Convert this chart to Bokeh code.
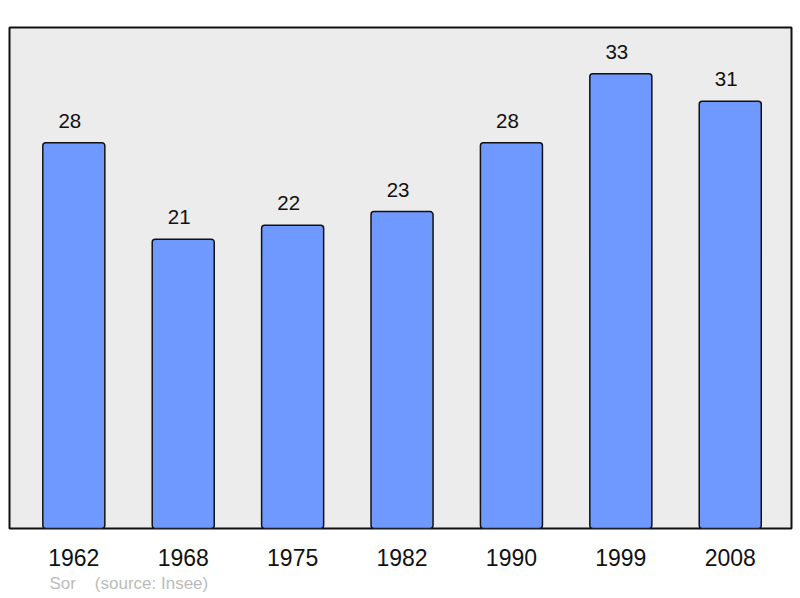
from bokeh.plotting import figure
from bokeh.models import ColumnDataSource, Title, FixedTicker, Range1d
from bokeh.core.properties import value
from bokeh.embed import file_html
from bokeh.resources import INLINE

years = ["1962", "1968", "1975", "1982", "1990", "1999", "2008"]
population = [28, 21, 22, 23, 28, 33, 31]
footer = "Sor\u00a0\u00a0\u00a0\u00a0(source: Insee)"

FONT = "Liberation Sans"
xs = list(range(len(years)))
src = ColumnDataSource(dict(x=xs, top=population, label=[str(v) for v in population]))

p = figure(frame_width=782, frame_height=501, output_backend="svg", toolbar_location=None,
           x_range=Range1d(-0.588, 6.56), y_range=Range1d(0, 36.36),
           min_border_left=9, min_border_right=9, min_border_top=27, min_border_bottom=0)
p.background_fill_color = "#ececec"
p.border_fill_color = "white"
p.outline_line_color = "#111111"
p.outline_line_width = 2
p.grid.visible = False
p.yaxis.visible = False

p.vbar(x="x", top="top", width=0.567, bottom=0, source=src, fill_color="#7099ff",
       line_color="#111111", line_width=1.5, border_radius=3)
p.text(x="x", y="top", text="label", source=src, text_align="center", text_baseline="middle",
       x_offset=-4, y_offset=-22, text_font=value(FONT), text_font_size="20.5px",
       text_color="#111111")

ax = p.xaxis[0]
ax.ticker = FixedTicker(ticks=xs)
ax.major_label_overrides = {i: y for i, y in enumerate(years)}
ax.axis_line_color = None
ax.major_tick_line_color = None
ax.minor_tick_line_color = None
ax.major_tick_out = 0
ax.major_tick_in = 0
ax.major_label_standoff = 20
ax.major_label_text_font = FONT
ax.major_label_text_font_size = "23px"
ax.major_label_text_color = "#111111"

t = Title(text=footer, align="left", offset=40, text_font=FONT, text_font_size="17px",
          text_font_style="normal", text_color="#bbbbbb", standoff=7)
p.add_layout(t, "below")

open("out.html", "w").write(file_html(p, INLINE))
